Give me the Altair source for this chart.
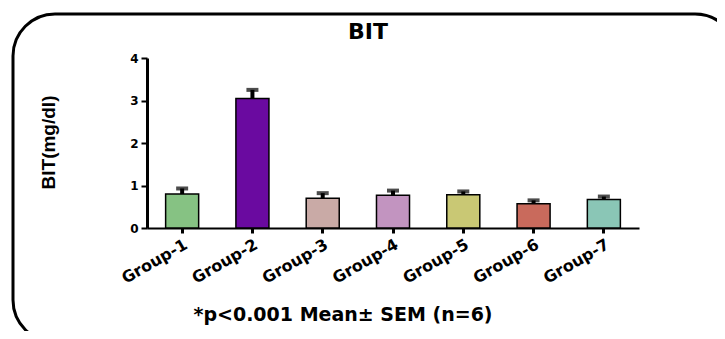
import altair as alt
import pandas as pd

groups = ["Group-1", "Group-2", "Group-3", "Group-4", "Group-5", "Group-6", "Group-7"]
means = [0.80, 3.05, 0.70, 0.77, 0.78, 0.57, 0.67]
sems = [0.13, 0.20, 0.12, 0.11, 0.08, 0.08, 0.07]
colors = ["#86c283", "#6a0aa0", "#c9aaa6", "#c294c0", "#c9c874", "#c96a5c", "#8ac6b6"]

df = pd.DataFrame({"group": groups, "mean": means, "sem": sems, "color": colors})
df["upper"] = df["mean"] + df["sem"]

WIDE = "DejaVu Sans"
ARIAL = "Liberation Sans"

x_enc = alt.X("group:N", sort=groups, title=None,
              scale=alt.Scale(paddingInner=0.53, paddingOuter=0.265),
              axis=alt.Axis(labelAngle=-30, labelFontSize=16, labelFontWeight="bold",
                            labelFont=WIDE, labelColor="black", domainColor="black",
                            domainWidth=2, tickColor="black", tickWidth=3, tickSize=5,
                            labelPadding=3))
y_scale = alt.Scale(domain=[0, 4], nice=False)

base = alt.Chart(df)

bars = base.mark_bar(stroke="black", strokeWidth=1.5).encode(
    x=x_enc,
    y=alt.Y("mean:Q", scale=y_scale, title="BIT(mg/dl)",
            axis=alt.Axis(values=[0, 1, 2, 3, 4], grid=False, labelFontSize=12,
                          labelFontWeight="bold", labelFont=WIDE, labelColor="black",
                          domainColor="black", domainWidth=3, tickColor="black",
                          tickWidth=2, tickSize=6, titleFont=ARIAL, titleFontSize=19,
                          titleFontWeight="bold", titleColor="black",
                          titleX=-99, titleY=84, titleAngle=-90, titleAlign="center",
                          titleBaseline="middle", labelPadding=3)),
    fill=alt.Fill("color:N", scale=None),
)

err = base.mark_rule(color="black", strokeWidth=4).encode(
    x=alt.X("group:N", sort=groups),
    y=alt.Y("mean:Q", scale=y_scale),
    y2="upper:Q",
)
cap = base.mark_tick(color="black", thickness=4, size=12).encode(
    x=alt.X("group:N", sort=groups),
    y=alt.Y("upper:Q", scale=y_scale),
)

one = alt.Data(values=[{"a": 1}])
frame = alt.Chart(one).mark_rect(cornerRadius=42, fill="white", fillOpacity=0,
                                 stroke="black", strokeWidth=3).encode(
    x=alt.value(-134), x2=alt.value(590), y=alt.value(-44), y2=alt.value(284))

title = alt.Chart(one).mark_text(text="BIT", font=WIDE, fontSize=22, fontWeight="bold",
                                 color="black", align="center", baseline="middle").encode(
    x=alt.value(221), y=alt.value(-26))
foot = alt.Chart(one).mark_text(text="*p<0.001 Mean\u00b1 SEM (n=6)", font=WIDE, fontSize=19,
                                fontWeight="bold", color="black", align="center",
                                baseline="middle").encode(
    x=alt.value(196), y=alt.value(257))

chart = alt.layer(frame, bars, err, cap, title, foot).properties(
    width=492, height=170,
    autosize=alt.AutoSizeParams(type="none"),
    padding={"left": 139, "top": 50, "right": 78, "bottom": 103},
).configure_view(stroke=None)

chart.save("out.html", embed_options={"renderer": "svg", "actions": False})
